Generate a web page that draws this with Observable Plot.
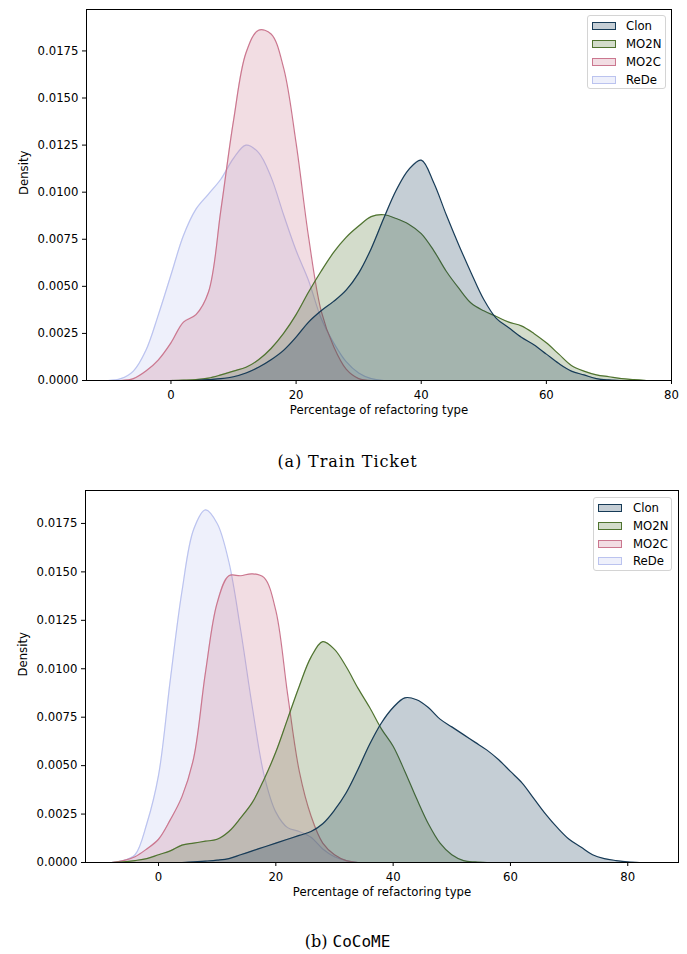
<!DOCTYPE html>
<html>
<head>
<meta charset="utf-8">
<script src="https://cdn.jsdelivr.net/npm/d3@7"></script>
<script src="https://cdn.jsdelivr.net/npm/@observablehq/plot@0.6"></script>
<style>
  body { margin: 0; background: #fff; }
  #page { position: relative; width: 687px; height: 954px; overflow: hidden; }
  .fig { position: absolute; left: 0; }
  .legend { position: absolute; box-sizing: border-box; border: 1px solid #d4d4d4; border-radius: 3px;
            background: rgba(255,255,255,0.8); font: 11.7px "DejaVu Sans"; color: #000; }
  .row { position: absolute; left: 0; height: 16px; width: 100%; }
  .patch { position: absolute; box-sizing: border-box; width: 24px; height: 8px; border-width: 1.3px; border-style: solid; }
  .lab { position: absolute; line-height: 16px; white-space: nowrap; }
  .caption { position: absolute; left: 4px; width: 687px; text-align: center; font: 16px "DejaVu Serif"; color: #000; line-height: 20px; }
  .tt { font-family: "DejaVu Sans Mono"; }
</style>
</head>
<body>
<div id="page"></div>
<script>
// ---- series names and colours ----
const seriesNames = ["Clon", "MO2N", "MO2C", "ReDe"];
const seriesColors = ["#173b57", "#4f732f", "#cb778f", "#bbc3ef"];

// ---- tick labels ----
const xTicks = [0, 20, 40, 60, 80];
const yTicks = [0, 0.0025, 0.005, 0.0075, 0.01, 0.0125, 0.015, 0.0175];

// ---- (a) Train Ticket: [percentage, density] ----
const trainClon = [[4,0],[6,0.00005],[8,0.0001],[10,0.0002],[12,0.0004],[14,0.0007],[16,0.0011],[18,0.0016],[20,0.0023],[22,0.0031],[24,0.0037],[26,0.0042],[28,0.0048],[30,0.0057],[32,0.0070],[34,0.0086],[36,0.0101],[38,0.0112],[40,0.0117],[42,0.0105],[44,0.0088],[46,0.0072],[48,0.0057],[50,0.0043],[52,0.0033],[54,0.0028],[56,0.0023],[58,0.0019],[60,0.0014],[62,0.0009],[64,0.0005],[66,0.0003],[68,0.0001],[70,0.00003],[72,0]];
const trainMO2N = [[0,0],[2,0.00002],[4,0.00005],[6,0.00013],[8,0.0003],[10,0.0005],[12,0.0007],[14,0.0011],[16,0.0017],[18,0.0025],[20,0.0035],[22,0.0047],[24,0.0058],[26,0.0068],[28,0.0076],[30,0.0082],[32,0.0087],[34,0.0088],[36,0.0086],[38,0.0083],[40,0.0078],[42,0.0069],[44,0.0058],[46,0.0049],[48,0.0041],[50,0.0037],[52,0.0034],[54,0.0031],[56,0.0029],[58,0.0025],[60,0.0020],[62,0.0014],[64,0.0008],[66,0.0005],[68,0.0003],[70,0.0002],[72,0.0001],[74,0.00005],[76,0]];
const trainMO2C = [[-8,0],[-6,0.0001],[-4,0.0005],[-2,0.0011],[0,0.0020],[2,0.0031],[4,0.0035],[6,0.0047],[8,0.0091],[10,0.0138],[12,0.0174],[14,0.0186],[16,0.0184],[18,0.0166],[20,0.0126],[22,0.0076],[24,0.0037],[26,0.0018],[28,0.0006],[30,0.0001],[32,0]];
const trainReDe = [[-10,0],[-8,0.0001],[-6,0.0005],[-4,0.0016],[-2,0.0035],[0,0.0056],[2,0.0077],[4,0.0091],[6,0.0099],[8,0.0107],[10,0.0118],[12,0.0125],[14,0.0121],[16,0.0108],[18,0.0088],[20,0.0069],[22,0.0053],[24,0.0033],[26,0.0020],[28,0.0010],[30,0.0004],[32,0.0001],[34,0]];

// ---- (b) CoCoME ----
const cocoClon = [[4,0],[6,0.00003],[8,0.00007],[10,0.00012],[12,0.0002],[14,0.0004],[16,0.0006],[18,0.0008],[20,0.0010],[22,0.0012],[24,0.0014],[26,0.0016],[28,0.0020],[30,0.0027],[32,0.0036],[34,0.0048],[36,0.0061],[38,0.0072],[40,0.0080],[42,0.0085],[44,0.0084],[46,0.0080],[48,0.0074],[50,0.0070],[52,0.0066],[54,0.0062],[56,0.0058],[58,0.0053],[60,0.0047],[62,0.0041],[64,0.0033],[66,0.0025],[68,0.0018],[70,0.0012],[72,0.0008],[74,0.0004],[76,0.0002],[78,0.0001],[80,0.00003],[82,0]];
const cocoMO2N = [[-8,0],[-6,0.00003],[-4,0.0001],[-2,0.0002],[0,0.0004],[2,0.0006],[4,0.0009],[6,0.0010],[8,0.0011],[10,0.0012],[12,0.0016],[14,0.0023],[16,0.0031],[18,0.0043],[20,0.0057],[22,0.0074],[24,0.0091],[26,0.0106],[28,0.0114],[30,0.0110],[32,0.0101],[34,0.0090],[36,0.0080],[38,0.0069],[40,0.0060],[42,0.0047],[44,0.0033],[46,0.0020],[48,0.0010],[50,0.0004],[52,0.0001],[54,0.00003],[56,0]];
const cocoMO2C = [[-8,0],[-6,0.0001],[-4,0.0003],[-2,0.0007],[0,0.0012],[2,0.0022],[4,0.0034],[6,0.0054],[8,0.0098],[10,0.0134],[12,0.0148],[14,0.0148],[16,0.0149],[18,0.0147],[20,0.0130],[22,0.0087],[24,0.0047],[26,0.0024],[28,0.0010],[30,0.0004],[32,0.0001],[34,0]];
const cocoReDe = [[-8,0],[-6,0.0001],[-4,0.0004],[-2,0.0020],[0,0.0045],[2,0.0094],[4,0.0140],[6,0.0172],[8,0.0182],[10,0.0175],[12,0.0155],[14,0.0120],[16,0.0080],[18,0.0045],[20,0.0026],[22,0.0018],[24,0.0016],[26,0.0013],[28,0.0007],[30,0.0003],[32,0.0001],[34,0]];

const page = document.getElementById("page");

function makeChart(seriesData, cfg) {
  const marks = [];
  // draw last series first so the first (Clon) ends on top, as seaborn layers
  for (let i = seriesData.length - 1; i >= 0; i--) {
    const data = seriesData[i];
    const col = seriesColors[i];
    marks.push(Plot.areaY(data, {x: d => d[0], y: d => d[1], fill: col, fillOpacity: 0.25, curve: "catmull-rom"}));
    marks.push(Plot.lineY(data, {x: d => d[0], y: d => d[1], stroke: col, strokeWidth: 1.2, curve: "catmull-rom"}));
  }
  marks.push(Plot.axisX({ticks: xTicks, tickSize: 4, tickPadding: 6, tickFormat: d => String(d), stroke: "black", fill: "black", label: null}));
  marks.push(Plot.axisY({ticks: yTicks, tickSize: 4, tickPadding: 4, tickFormat: d3.format(".4f"), stroke: "black", fill: "black", label: null}));
  marks.push(Plot.frame({stroke: "black", strokeWidth: 1}));
  marks.push(Plot.text(["Percentage of refactoring type"], {frameAnchor: "bottom", text: d => d, dy: 33, fill: "black"}));
  marks.push(Plot.text(["Density"], {frameAnchor: "left", text: d => d, rotate: -90, dx: -62, fill: "black"}));
  const svg = Plot.plot({
    width: 687,
    height: cfg.height,
    marginTop: cfg.marginTop,
    marginBottom: cfg.marginBottom,
    marginLeft: cfg.marginLeft,
    marginRight: cfg.marginRight,
    x: {domain: cfg.xDomain, label: null},
    y: {domain: cfg.yDomain, label: null},
    style: {fontFamily: "DejaVu Sans", fontSize: "11.7px", color: "black", background: "white", overflow: "visible"},
    marks
  });
  svg.classList.add("fig");
  svg.style.top = cfg.top + "px";
  page.appendChild(svg);
}

function makeLegend(cfg) {
  const box = document.createElement("div");
  box.className = "legend";
  Object.assign(box.style, {left: cfg.left + "px", top: cfg.top + "px", width: cfg.width + "px", height: cfg.height + "px"});
  seriesNames.forEach((name, i) => {
    const row = document.createElement("div");
    row.className = "row";
    row.style.top = (cfg.rowTop + i * cfg.rowStep - 8) + "px";
    const p = document.createElement("div");
    p.className = "patch";
    const c = d3.color(seriesColors[i]);
    p.style.borderColor = seriesColors[i];
    p.style.background = `rgba(${c.r},${c.g},${c.b},0.25)`;
    p.style.left = cfg.patchLeft + "px";
    p.style.top = "4px";
    const t = document.createElement("div");
    t.className = "lab";
    t.style.left = cfg.textLeft + "px";
    t.textContent = name;
    row.appendChild(p); row.appendChild(t);
    box.appendChild(row);
  });
  page.appendChild(box);
}

function makeCaption(html, top, spacing) {
  const c = document.createElement("div");
  c.className = "caption";
  c.style.top = top + "px";
  c.style.letterSpacing = spacing + "px";
  c.innerHTML = html;
  page.appendChild(c);
}

makeChart([trainClon, trainMO2N, trainMO2C, trainReDe], {
  top: 0, height: 425, marginTop: 9, marginBottom: 45, marginLeft: 86, marginRight: 16,
  xDomain: [-13.5, 80], yDomain: [0, 0.0197]
});
makeLegend({left: 587, top: 15, width: 79, height: 74, rowTop: 10, rowStep: 18, patchLeft: 4, textLeft: 38});
makeCaption("(a) Train Ticket", 452, 0.9);

makeChart([cocoClon, cocoMO2N, cocoMO2C, cocoReDe], {
  top: 480, height: 427, marginTop: 10, marginBottom: 45, marginLeft: 85, marginRight: 9,
  xDomain: [-12.45, 88.65], yDomain: [0, 0.0192]
});
makeLegend({left: 593, top: 497, width: 79, height: 74, rowTop: 10.3, rowStep: 17.6, patchLeft: 4, textLeft: 39});
makeCaption('(b) <span class="tt">CoCoME</span>', 932, 0);
</script>
</body>
</html>
